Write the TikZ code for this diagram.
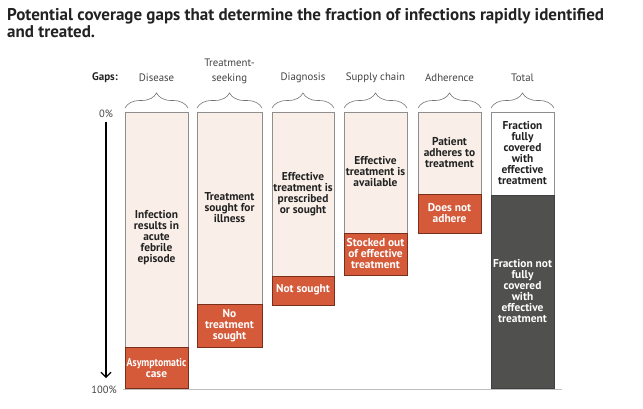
\documentclass[tikz,border=0pt]{standalone}
\usepackage{fontspec}
\setmainfont{PT Sans}
\newfontfamily\narrowb[FakeStretch=0.86]{PT Sans}
\usetikzlibrary{decorations.pathreplacing,arrows.meta}
\definecolor{lightfill}{HTML}{F9EEE8}
\definecolor{lightborder}{HTML}{8E8E8E}
\definecolor{redfill}{HTML}{D45A3A}
\definecolor{redborder}{HTML}{7A2F1C}
\definecolor{darkfill}{HTML}{50504E}
\definecolor{txt}{HTML}{222222}
\tikzset{
  lightbox/.style={draw=lightborder,fill=lightfill,line width=0.9pt},
  redbox/.style={draw=redborder,fill=redfill,line width=0.9pt},
  whitebox/.style={draw=lightborder,fill=white,line width=0.9pt},
  darkbox/.style={draw=black!75,fill=darkfill,line width=0.9pt},
  intext/.style={align=center,font=\bfseries\fontsize{11.4}{11}\selectfont,text=txt,inner sep=0pt},
  outtext/.style={intext,text=white},
  head/.style={align=center,font=\fontsize{10.8}{15}\selectfont,text=txt!85,inner sep=0pt},
  gbrace/.style={draw=black!55,line width=0.6pt,decorate,decoration={brace,amplitude=15pt}}
}
\begin{document}
\begin{tikzpicture}[x=1pt,y=-1pt]
\useasboundingbox (0,0) rectangle (643,408);
% title
\node[anchor=north west,align=left,inner sep=0pt,text=txt,font=\bfseries\fontsize{17}{17.5}\selectfont] (title) at (7,8)
  {Potential coverage gaps that determine the fraction of infections rapidly identified\\and treated.};
% headers
\node[head,font=\bfseries\fontsize{11}{12}\selectfont,text=txt] (gaps) at (105,78) {Gaps:};
\node[head] (h1) at (156.5,78) {Disease};
\node[head,align=center] (h2) at (229.5,71) {Treatment-\\seeking};
\node[head] (h3) at (303,78) {Diagnosis};
\node[head] (h4) at (375.5,78) {Supply chain};
\node[head] (h5) at (449.5,78) {Adherence};
\node[head] (h6) at (522.5,78) {Total};
% braces
\draw[gbrace] (125,108) -- (188,108);
\draw[gbrace] (197,108) -- (262,108);
\draw[gbrace] (272,108) -- (334,108);
\draw[gbrace] (344,108) -- (407,108);
\draw[gbrace] (418,108) -- (481,108);
\draw[gbrace] (491,108) -- (554,108);
% baseline
\draw[black!25,line width=0.9pt] (123,389) -- (562,389);
% axis
\node[head,font=\fontsize{10.5}{12}\selectfont] (p0) at (106,114) {0\%};
\node[head,font=\fontsize{10.5}{12}\selectfont] (p100) at (104,390) {100\%};
\coordinate (a0) at (106,122);
\coordinate (a1) at (106,378);
\draw[line width=1.1pt,-{Straight Barb[length=5pt,width=10pt,line width=1.1pt]}] (a0) -- (a1);
% column 1 Disease
\draw[lightbox] (125,112) rectangle (188,347);
\draw[redbox] (125,347) rectangle (188,388);
\node[intext] (t1) at (156.5,238) {Infection\\results in\\acute\\febrile\\episode};
\node[outtext] (r1) at (156.5,368) {{\narrowb\bfseries Asymptomatic}\\case};
% column 2 Treatment seeking
\draw[lightbox] (197,112) rectangle (262,304);
\draw[redbox] (197,304) rectangle (262,347);
\node[intext] (t2) at (229.5,208) {Treatment\\sought for\\illness};
\node[outtext] (r2) at (229.5,326) {No\\treatment\\sought};
% column 3 Diagnosis
\draw[lightbox] (272,112) rectangle (334,276);
\draw[redbox] (272,276) rectangle (334,305);
\node[intext] (t3) at (303,194) {Effective\\treatment is\\prescribed\\or sought};
\node[outtext] (r3) at (303,290) {Not sought};
% column 4 Supply chain
\draw[lightbox] (344,112) rectangle (407,233);
\draw[redbox] (344,233) rectangle (407,275);
\node[intext] (t4) at (375.5,172) {Effective\\treatment is\\available};
\node[outtext] (r4) at (375.5,254) {Stocked out\\of effective\\treatment};
% column 5 Adherence
\draw[lightbox] (418,112) rectangle (481,194);
\draw[redbox] (418,194) rectangle (481,233);
\node[intext] (t5) at (449.5,153) {Patient\\adheres to\\treatment};
\node[outtext] (r5) at (449.5,213) {Does not\\adhere};
% column 6 Total
\draw[whitebox] (491,112) rectangle (554,195);
\draw[darkbox] (491,195) rectangle (554,388);
\node[intext] (t6) at (522.5,153) {Fraction\\fully\\covered\\with\\effective\\treatment};
\node[outtext] (r6) at (522.5,291) {Fraction not\\fully\\covered\\with\\effective\\treatment};
\end{tikzpicture}
\end{document}
